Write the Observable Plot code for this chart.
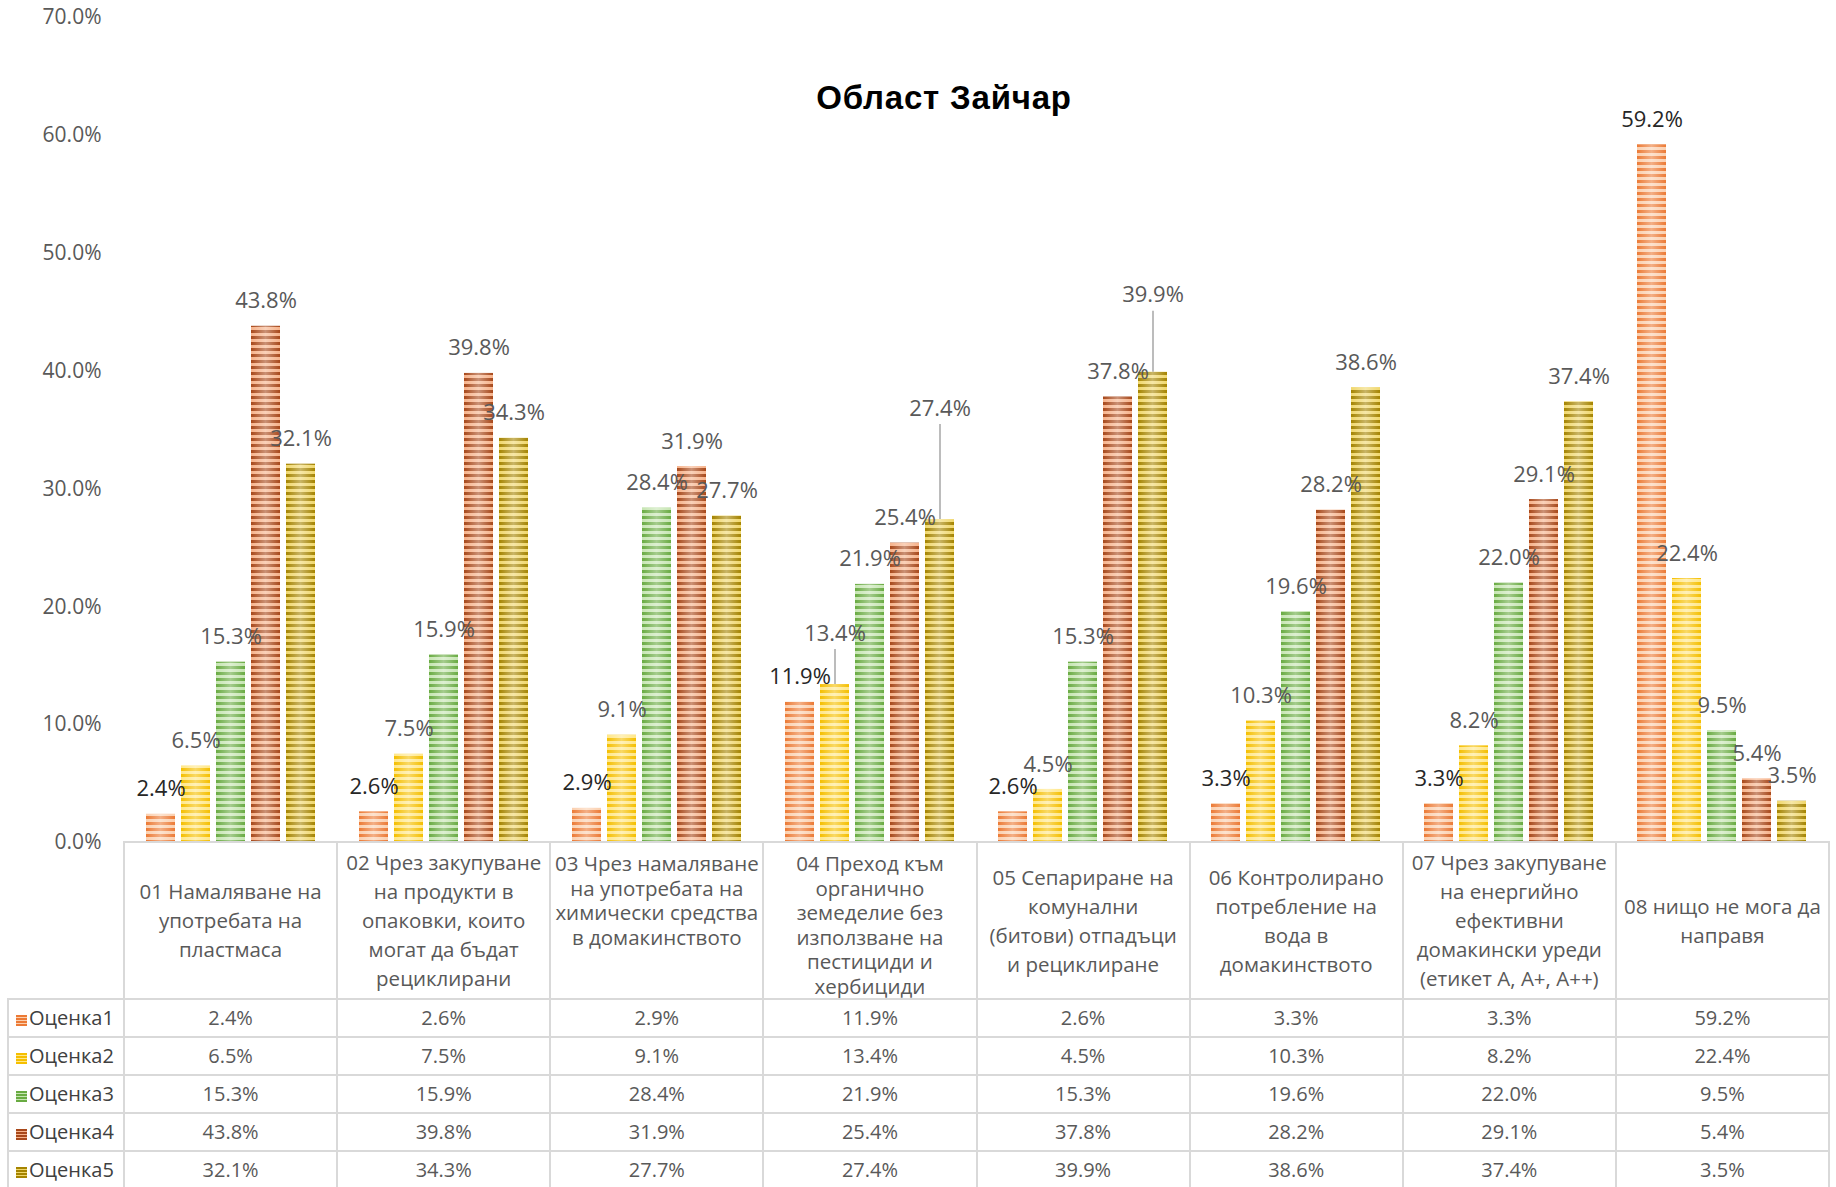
<!DOCTYPE html>
<html>
<head>
<meta charset="utf-8">
<script src="https://cdn.jsdelivr.net/npm/d3@7"></script>
<script src="https://cdn.jsdelivr.net/npm/@observablehq/plot@0.6"></script>
<style>
  html, body { margin: 0; padding: 0; background: #fff; }
  #wrap { position: relative; width: 1836px; height: 1187px; overflow: hidden; font-family: "Open Sans", sans-serif; }
  #title { position: absolute; left: 944px; top: 98px; transform: translate(-50%, -50%); font-family: "Liberation Sans", Arial, sans-serif; font-weight: bold; font-size: 33px; letter-spacing: 0.8px; color: #000; white-space: nowrap; }
  #tbl { position: absolute; left: 7px; top: 841px; border-collapse: collapse; table-layout: fixed; font-family: "Open Sans", sans-serif; font-size: 20px; color: #595959; }
  #tbl td { border: 2px solid #D9D9D9; padding: 0; text-align: center; overflow: hidden; }
  #tbl td.empty { border: none; }
  #tbl tr.head td { height: 154px; }
  #tbl tr.head td.cat { white-space: pre-line; line-height: 29px; vertical-align: middle; font-size: 20.5px; }
  #tbl tr.head td.cat.tight { line-height: 24.5px; vertical-align: top; padding-top: 8px; box-sizing: border-box; }
  #tbl tr.row td { height: 36px; line-height: 34px; }
  #tbl td.leg { text-align: left; color: #404040; padding-left: 7px; white-space: nowrap; }
  .sw { display: inline-block; width: 11px; height: 11px; margin-right: 2px; vertical-align: -1px; }
</style>
</head>
<body>
<div id="wrap">
  <div id="title"></div>
</div>
<script>
// ---------- data ----------
const title = "Област Зайчар";
const categories = [
  "01 Намаляване на\nупотребата на\nпластмаса",
  "02 Чрез закупуване\nна продукти в\nопаковки, които\nмогат да бъдат\nрециклирани",
  "03 Чрез намаляване\nна употребата на\nхимически средства\nв домакинството",
  "04 Преход към\nорганично\nземеделие без\nизползване на\nпестициди и\nхербициди",
  "05 Сепариране на\nкомунални\n(битови) отпадъци\nи рециклиране",
  "06 Контролирано\nпотребление на\nвода в\nдомакинството",
  "07 Чрез закупуване\nна енергийно\nефективни\nдомакински уреди\n(етикет A, A+, A++)",
  "08 нищо не мога да\nнаправя"
];
const seriesNames = ["Оценка1", "Оценка2", "Оценка3", "Оценка4", "Оценка5"];
const ocenka1 = [2.4, 2.6, 2.9, 11.9, 2.6, 3.3, 3.3, 59.2];
const ocenka2 = [6.5, 7.5, 9.1, 13.4, 4.5, 10.3, 8.2, 22.4];
const ocenka3 = [15.3, 15.9, 28.4, 21.9, 15.3, 19.6, 22.0, 9.5];
const ocenka4 = [43.8, 39.8, 31.9, 25.4, 37.8, 28.2, 29.1, 5.4];
const ocenka5 = [32.1, 34.3, 27.7, 27.4, 39.9, 38.6, 37.4, 3.5];
const yTicks = [0, 10, 20, 30, 40, 50, 60, 70];

// ---------- styles ----------
const stripeDark  = ["#EC7A35", "#F5BF00", "#69AB42", "#A8481A", "#A58400"];
const stripeLight = ["#FBCFAE", "#FFE788", "#C6E5B2", "#F6B28A", "#F0D76C"];
const labelColors = ["#262626", "#595959", "#595959", "#595959", "#595959"];
// manual label lifts (px) for labels moved with leader lines: [categoryIndex, seriesIndex, px]
const labelLift = [[3, 1, 26], [3, 4, 86], [4, 4, 52]];
const tightHeaders = [2, 3];

const W = 1836, H = 842, mTop = 17, mLeft = 123, mRight = 8;
const pxPerUnit = (H - mTop) / 70;
const fmt = v => v.toFixed(1) + "%";

// ---------- defs (patterns) ----------
const ns = "http://www.w3.org/2000/svg";
const defsSvg = document.createElementNS(ns, "svg");
defsSvg.setAttribute("width", 0); defsSvg.setAttribute("height", 0);
defsSvg.style.position = "absolute";
let defs = "<defs>";
seriesNames.forEach((s, j) => {
  defs += `<pattern id="stripe${j}" patternUnits="userSpaceOnUse" width="8" height="6">
    <rect width="8" height="6" fill="${stripeLight[j]}"/>
    <rect width="8" height="3" fill="${stripeDark[j]}"/></pattern>`;
});
defs += `<linearGradient id="sheen" x1="0" x2="1" y1="0" y2="0">
  <stop offset="0" stop-color="#fff" stop-opacity="0"/>
  <stop offset="0.5" stop-color="#fff" stop-opacity="0.4"/>
  <stop offset="1" stop-color="#fff" stop-opacity="0"/></linearGradient></defs>`;
defsSvg.innerHTML = defs;
document.body.prepend(defsSvg);

// ---------- table of values ----------
const allSeries = [ocenka1, ocenka2, ocenka3, ocenka4, ocenka5];
const data = [];
categories.forEach((c, i) => seriesNames.forEach((s, j) => {
  const lift = labelLift.find(l => l[0] === i && l[1] === j);
  data.push({cat: c, ci: i, series: s, si: j, value: allSeries[j][i], lift: lift ? lift[2] : 0});
}));
const leaders = data.filter(d => d.lift > 0);

const chart = Plot.plot({
  width: W, height: H,
  marginTop: mTop, marginLeft: mLeft, marginRight: mRight, marginBottom: 0,
  style: {fontFamily: "'Open Sans', sans-serif", color: "#595959", background: "transparent", overflow: "visible"},
  fx: {domain: categories, padding: 0, axis: null},
  x: {domain: seriesNames, paddingInner: 0.18, paddingOuter: 0.6, axis: null},
  y: {domain: [0, 70], axis: null},
  marks: [
    Plot.axisY({ticks: yTicks, tickFormat: fmt, tickSize: 0, tickPadding: 23, fontSize: 21, fill: "#595959", label: null}),
    ...seriesNames.map((s, j) => Plot.barY(data.filter(d => d.si === j), {fx: "cat", x: "series", y: "value", fill: `url(#stripe${j})`})),
    Plot.barY(data, {fx: "cat", x: "series", y: "value", fill: "url(#sheen)"}),
    Plot.ruleX(leaders, {fx: "cat", x: "series", y1: d => d.value, y2: d => d.value + (d.lift + 9) / pxPerUnit, stroke: "#A6A6A6", strokeWidth: 1.5}),
    ...seriesNames.map((s, j) => Plot.text(data.filter(d => d.si === j), {
      fx: "cat", x: "series", y: d => d.value + d.lift / pxPerUnit, text: d => fmt(d.value),
      dy: -25, fontSize: 22, fill: labelColors[j]
    }))
  ]
});
const wrap = document.getElementById("wrap");
wrap.prepend(chart);
chart.style.position = "absolute"; chart.style.left = "0px"; chart.style.top = "0px";
document.getElementById("title").textContent = title;

// ---------- data table ----------
const tbl = document.createElement("table");
tbl.id = "tbl";
const colW = (W - mLeft - mRight) / categories.length;
let html = `<colgroup><col style="width:${mLeft - 7}px">` + categories.map(() => `<col style="width:${colW}px">`).join("") + `</colgroup>`;
html += `<tr class="head"><td class="empty"></td>` + categories.map((c, i) => `<td class="cat${tightHeaders.includes(i) ? " tight" : ""}">${c}</td>`).join("") + `</tr>`;
seriesNames.forEach((s, j) => {
  html += `<tr class="row"><td class="leg"><span class="sw" style="background:repeating-linear-gradient(to bottom, ${stripeDark[j]} 0 2px, ${stripeLight[j]} 2px 3px)"></span>${s}</td>` +
    allSeries[j].map(v => `<td>${fmt(v)}</td>`).join("") + `</tr>`;
});
tbl.innerHTML = html;
tbl.style.width = (W - mRight - 7) + "px";
wrap.appendChild(tbl);
</script>
</body>
</html>
